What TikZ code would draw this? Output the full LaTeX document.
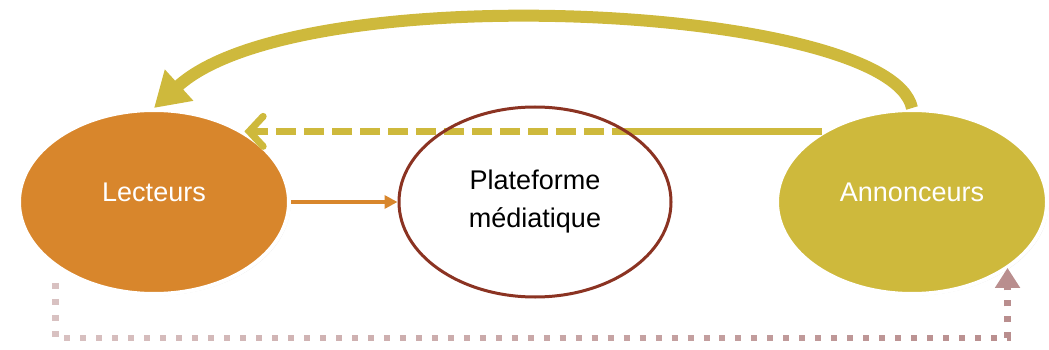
\documentclass[tikz,border=0pt]{standalone}
\usepackage{fontspec}
\setmainfont{Liberation Sans}
\usetikzlibrary{arrows.meta,shapes.geometric,shadows,fadings}

\definecolor{lecorange}{HTML}{D8862C}
\definecolor{annolive}{HTML}{CEB93C}
\definecolor{platbrown}{HTML}{8B3322}
\definecolor{dotrose}{HTML}{B98E8E}

\tikzfading[name=dotfade, left color=transparent!45, right color=transparent!0]

\tikzset{
  actor/.style={ellipse, draw=white, line width=4pt, inner sep=0pt,
    minimum width=270pt, minimum height=184pt,
    drop shadow={opacity=0.22, shadow xshift=1.5pt, shadow yshift=-1.5pt}},
  plat/.style={ellipse, draw=platbrown, line width=3pt, inner sep=0pt,
    minimum width=272pt, minimum height=190pt, align=center},
  bigarc/.style={annolive, line width=12pt, -{Triangle[length=34pt,width=40pt]}},
  payline/.style={annolive, line width=7pt},
  dashpay/.style={payline, dash pattern=on 20pt off 8pt,
    -{Straight Barb[length=14pt,width=30pt,line cap=round]}},
  readarrow/.style={lecorange, line width=3.5pt, -{Triangle[length=13pt,width=13pt]}},
  dotline/.style={dotrose, line width=6.5pt, dash pattern=on 6pt off 10pt,
    path fading=dotfade, -{Triangle[length=20pt,width=24pt]}}
}

\begin{document}
\begin{tikzpicture}[x=1pt,y=-1pt]
\useasboundingbox (0,0) rectangle (1049,350);
\fontsize{27}{38}\selectfont

% the three parties
\node[actor, fill=lecorange, label={[white, yshift=10pt]center:Lecteurs}] (lec) at (154,202) {};
\node[actor, fill=annolive, label={[white, yshift=10pt]center:Annonceurs}] (ann) at (912,202) {};

% flows
\draw[bigarc] (ann.north) .. controls (890,5) and (300,-25) .. (lec.north);
\coordinate (gap) at (ann.142 -| 632,0);
\draw[payline] (ann.142) -- (gap);
\draw[dashpay] (gap) -- (lec.38);

% platform drawn over the flow lines
\node[plat] (plat) at (535,202) {Plateforme\\médiatique};
\draw[readarrow] (lec.east) -- (plat.west);

% bottom return
\coordinate (bot) at (0,338);
\draw[dotline, shorten <=15pt] (lec.214) -- (lec.214 |- bot) -- (ann.-34 |- bot) -- (ann.-34);
\end{tikzpicture}
\end{document}
